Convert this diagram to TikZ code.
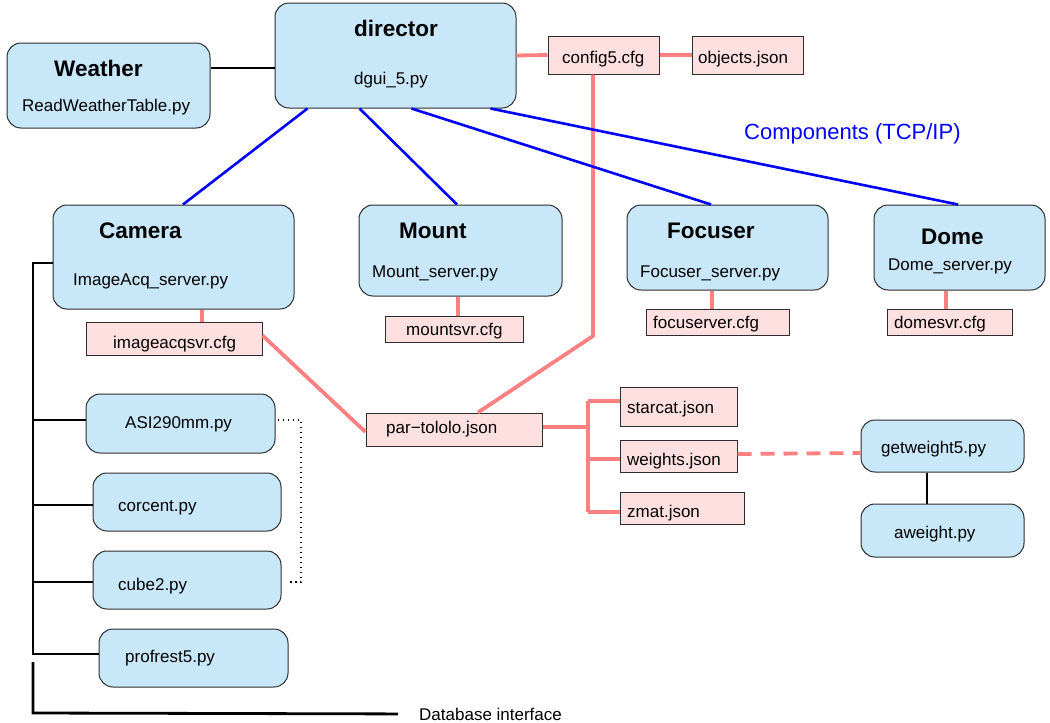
\documentclass[tikz,border=0pt]{standalone}
\usepackage{fontspec}
\setmainfont{Liberation Sans}
\usetikzlibrary{calc}
\definecolor{boxblue}{RGB}{200,232,250}
\definecolor{cfgpink}{RGB}{255,224,224}
\definecolor{linkpink}{RGB}{255,128,128}
\definecolor{edgegray}{RGB}{45,45,45}
\tikzset{
  sz/.style 2 args={minimum width=#1pt, minimum height=#2pt},
  pybox/.style={draw=edgegray, fill=boxblue, rounded corners=14pt, line width=1pt, inner sep=0pt},
  cfgbox/.style={draw=edgegray, fill=cfgpink, line width=1pt, inner sep=0pt},
  lbl/.style={anchor=base west, inner sep=0pt, font=\fontsize{17}{20}\selectfont},
  ttl/.style={anchor=base west, inner sep=0pt, font=\fontsize{22.5}{26}\selectfont\bfseries},
  bluelink/.style={draw=blue, line width=2.6pt},
  pinklink/.style={draw=linkpink, line width=3.8pt},
  blacklink/.style={draw=black, line width=2.8pt},
  dotlink/.style={draw=black, line width=1.5pt, dash pattern=on 1.5pt off 3.5pt},
}
\begin{document}
\begin{tikzpicture}[x=1pt,y=-1pt]
\useasboundingbox (0,0) rectangle (1050,723);
% boxes
\node[pybox, sz={203}{85}] (weather) at (108.5,85.5) {};
\node[pybox, sz={241}{105}] (director) at (395.5,55.5) {};
\node[cfgbox, sz={111}{38}] (config) at (603.5,55) {};
\node[cfgbox, sz={111}{38}] (objects) at (747.5,55) {};
\node[pybox, sz={241}{104}] (camera) at (173.5,257) {};
\node[cfgbox, sz={176}{33}] (imgcfg) at (174,338.5) {};
\node[pybox, sz={203}{91}] (mount) at (460.5,250.5) {};
\node[cfgbox, sz={138}{26}] (mountcfg) at (454,329) {};
\node[pybox, sz={201}{85}] (focuser) at (727.5,247.5) {};
\node[cfgbox, sz={143}{26}] (foccfg) at (717.5,322) {};
\node[pybox, sz={171}{85}] (dome) at (959.5,247.5) {};
\node[cfgbox, sz={125}{26}] (domecfg) at (949.5,322) {};
\node[cfgbox, sz={176}{33}] (par) at (454,429.5) {};
\node[cfgbox, sz={117}{39}] (starcat) at (678.5,406.5) {};
\node[cfgbox, sz={117}{32}] (weights) at (678.5,456) {};
\node[cfgbox, sz={124}{32}] (zmat) at (682,508) {};
\node[pybox, sz={163}{52}] (getw) at (942.5,446) {};
\node[pybox, sz={163}{53}] (aweight) at (942.5,530.5) {};
\node[pybox, sz={189}{59}] (asi) at (180.5,423.5) {};
\node[pybox, sz={188}{58}] (corcent) at (187,502) {};
\node[pybox, sz={188}{58}] (cube) at (187,580) {};
\node[pybox, sz={189}{58}] (profrest) at (193.5,658) {};
% texts
\node[ttl] (weatherT) at (54,76) {Weather};
\node[lbl] (weatherF) at (22,111) {ReadWeatherTable.py};
\node[ttl] (directorT) at (354,36) {director};
\node[lbl] (directorF) at (354,84) {dgui\_5.py};
\node[lbl] (configT) at (562,63) {config5.cfg};
\node[lbl] (objectsT) at (698,63) {objects.json};
\node[ttl] (cameraT) at (99,238) {Camera};
\node[lbl] (cameraF) at (73,285) {ImageAcq\_server.py};
\node[lbl] (imgcfgT) at (113,348) {imageacqsvr.cfg};
\node[ttl] (mountT) at (399,238) {Mount};
\node[lbl] (mountF) at (372,277) {Mount\_server.py};
\node[lbl] (mountcfgT) at (406,335) {mountsvr.cfg};
\node[ttl] (focuserT) at (667,238) {Focuser};
\node[lbl] (focuserF) at (640,277) {Focuser\_server.py};
\node[lbl] (foccfgT) at (653,328) {focuserver.cfg};
\node[ttl] (domeT) at (921,244) {Dome};
\node[lbl] (domeF) at (888,270) {Dome\_server.py};
\node[lbl] (domecfgT) at (894,328) {domesvr.cfg};
\node[lbl] (parT) at (386,433) {par−tololo.json};
\node[lbl] (starcatT) at (627,413) {starcat.json};
\node[lbl] (weightsT) at (627,465) {weights.json};
\node[lbl] (zmatT) at (627,517) {zmat.json};
\node[lbl] (getwT) at (881,453) {getweight5.py};
\node[lbl] (aweightT) at (894,538) {aweight.py};
\node[lbl] (asiT) at (125,428) {ASI290mm.py};
\node[lbl] (corcentT) at (118,511) {corcent.py};
\node[lbl] (cubeT) at (118,590) {cube2.py};
\node[lbl] (profrestT) at (125,662) {profrest5.py};
\node[lbl, text=blue, font=\fontsize{22}{26}\selectfont] (comp) at (744,139) {Components (TCP/IP)};
\node[lbl] (db) at (419,720) {Database interface};
% pink links
\draw[pinklink] (director.east) -- (config.west);
\draw[pinklink] (config.east) -- (objects.west);
\draw[pinklink] ($(config.south)+(-10.5,0)$) -- (593,336) -- ($(par.north)+(24,0)$);
\draw[pinklink] ($(camera.south)+(28.5,0)$) -- ($(imgcfg.north)+(28,0)$);
\draw[pinklink] ($(mount.south)+(-2.5,0)$) -- ($(mountcfg.north)+(4,0)$);
\draw[pinklink] ($(focuser.south)+(-15.5,0)$) -- ($(foccfg.north)+(-5.5,0)$);
\draw[pinklink] ($(dome.south)+(-13.5,0)$) -- ($(domecfg.north)+(-3.5,0)$);
\draw[pinklink] ($(imgcfg.east)+(0,-3)$) -- ($(par.west)+(0,2.5)$);
\coordinate (br) at (588,427);
\draw[pinklink] ($(par.east)+(0,-2.5)$) -- (br);
\draw[pinklink] (br |- 0,401) -- (br |- 0,512);
\draw[pinklink] (br |- 0,401) -- ($(starcat.west)+(0,-5.5)$);
\draw[pinklink] (br |- 0,459) -- ($(weights.west)+(0,3)$);
\draw[pinklink] (br |- 0,512) -- ($(zmat.west)+(0,4)$);
\draw[pinklink, dash pattern=on 14pt off 9pt] ($(weights.east)+(0,-2)$) -- ($(getw.west)+(0,7)$);
% blue links
\draw[bluelink] ($(director.south west)+(33,0)$) -- ($(camera.north)+(9.5,0)$);
\draw[bluelink] ($(director.south west)+(85,0)$) -- ($(mount.north)+(-3.5,0)$);
\draw[bluelink] ($(director.south west)+(137,0)$) -- ($(focuser.north)+(-16.5,0)$);
\draw[bluelink] ($(director.south west)+(216,0)$) -- ($(dome.north)+(-1.5,0)$);
% black links
\draw[blacklink] ($(weather.east)+(0,-17.5)$) -- ($(director.west)+(0,12.5)$);
\draw[blacklink] ($(getw.south)+(-15.5,0)$) -- ($(aweight.north)+(-15.5,0)$);
\coordinate (spine) at (33,0);
\draw[blacklink] ($(camera.west)+(0,6)$) -- (spine |- 0,263) -- (spine |- 0,654) -- ($(profrest.west)+(0,-4)$);
\draw[blacklink] (spine |- 0,420) -- ($(asi.west)+(0,-3.5)$);
\draw[blacklink] (spine |- 0,505) -- ($(corcent.west)+(0,3)$);
\draw[blacklink] (spine |- 0,582) -- ($(cube.west)+(0,2)$);
\draw[blacklink] (spine |- 0,662) -- (spine |- 0,713) -- ($(db.west)+(-21,0)$);
% dotted
\draw[dotlink] ($(asi.east)+(2,-3.5)$) -- (301,420) -- (301,582) -- ($(cube.east)+(6,2)$);
\end{tikzpicture}
\end{document}
